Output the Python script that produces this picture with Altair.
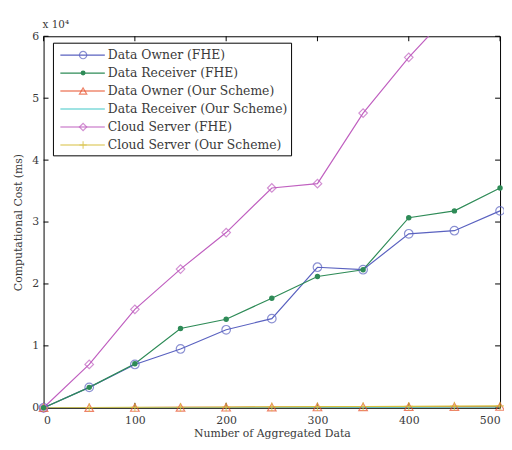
import altair as alt
import pandas as pd

# ---- data (values in units of 1e4 ms) ----
x_vals = [0, 50, 100, 150, 200, 250, 300, 350, 400, 450, 500]
series_names = [
    "Data Owner (FHE)",
    "Data Receiver (FHE)",
    "Data Owner (Our Scheme)",
    "Data Receiver (Our Scheme)",
    "Cloud Server (FHE)",
    "Cloud Server (Our Scheme)",
]
owner_fhe = [0, 0.33, 0.70, 0.95, 1.26, 1.44, 2.27, 2.23, 2.81, 2.86, 3.18]
receiver_fhe = [0, 0.33, 0.71, 1.28, 1.43, 1.77, 2.12, 2.23, 3.07, 3.18, 3.55]
owner_our = [0, 0.002, 0.004, 0.006, 0.008, 0.010, 0.012, 0.014, 0.016, 0.018, 0.020]
receiver_our = [0, 0.001, 0.002, 0.003, 0.004, 0.005, 0.006, 0.007, 0.008, 0.009, 0.010]
cloud_fhe = [0, 0.70, 1.59, 2.24, 2.83, 3.55, 3.62, 4.76, 5.66, 6.45, 7.30]
cloud_our = [0, 0.003, 0.006, 0.009, 0.012, 0.015, 0.018, 0.021, 0.024, 0.027, 0.030]
colors = ["#5a62c0", "#2e8b57", "#e8502a", "#40c8c8", "#c060c0", "#d8c040"]
y_ticks = [0, 1, 2, 3, 4, 5, 6]
x_ticks = [0, 100, 200, 300, 400, 500]

all_vals = [owner_fhe, receiver_fhe, owner_our, receiver_our, cloud_fhe, cloud_our]
rows = []
for name, vals in zip(series_names, all_vals):
    for xv, yv in zip(x_vals, vals):
        rows.append({"series": name, "x": xv, "y": yv})
df = pd.DataFrame(rows)

W, H = 462, 376
FONT = "DejaVu Serif"
TXT = "#3a3a3a"

xs = alt.Scale(domain=[0, 500], nice=False)
ys = alt.Scale(domain=[0, 6], nice=False)
cscale = alt.Scale(domain=series_names, range=colors)

x_axis = alt.Axis(values=x_ticks, title="Number of Aggregated Data", grid=False, ticks=False,
                  domain=False, labelPadding=7, titlePadding=2)
y_axis = alt.Axis(values=y_ticks, title="Computational Cost (ms)", grid=False, ticks=False,
                  domain=False, labelPadding=5, titlePadding=8)


def X(field):
    return alt.X(field, scale=xs, axis=x_axis)


def Y(field):
    return alt.Y(field, scale=ys, axis=y_axis)


base = alt.Chart(df)

lines = base.mark_line(clip=True, strokeWidth=1.2).encode(
    x=X("x:Q"), y=Y("y:Q"),
    color=alt.Color("series:N", scale=cscale, legend=None),
    detail="series:N",
)

hollow_names = ["Data Owner (FHE)", "Data Owner (Our Scheme)", "Cloud Server (FHE)"]
shape_scale = alt.Scale(domain=hollow_names + ["Cloud Server (Our Scheme)"],
                        range=["circle", "triangle-up", "diamond", "M-1,0H1M0,-1V1"])

pts = base.transform_filter(alt.datum.y <= 6)

hollow = pts.transform_filter(
    alt.FieldOneOfPredicate(field="series", oneOf=hollow_names + ["Cloud Server (Our Scheme)"])
).mark_point(filled=False, size=75, strokeWidth=1.2).encode(
    x=X("x:Q"), y=Y("y:Q"),
    color=alt.Color("series:N", scale=cscale, legend=None),
    shape=alt.Shape("series:N", scale=shape_scale, legend=None),
)

filled = pts.transform_filter(
    alt.FieldEqualPredicate(field="series", equal="Data Receiver (FHE)")
).mark_point(filled=True, size=30, shape="circle", opacity=1).encode(
    x=X("x:Q"), y=Y("y:Q"),
    color=alt.Color("series:N", scale=cscale, legend=None),
)

ytdf = pd.DataFrame({"y": y_ticks})
xtdf = pd.DataFrame({"x": x_ticks})
rule_style = dict(color="black", strokeWidth=1)
ytick_l = alt.Chart(ytdf).mark_rule(**rule_style).encode(
    y=Y("y:Q"), x=alt.value(0), x2=alt.value(5))
ytick_r = alt.Chart(ytdf).mark_rule(**rule_style).encode(
    y=Y("y:Q"), x=alt.value(W - 5), x2=alt.value(W))
xtick_b = alt.Chart(xtdf).mark_rule(**rule_style).encode(
    x=X("x:Q"), y=alt.value(H - 5), y2=alt.value(H))
xtick_t = alt.Chart(xtdf).mark_rule(**rule_style).encode(
    x=X("x:Q"), y=alt.value(0), y2=alt.value(5))

exp_label = alt.Chart(pd.DataFrame({"t": ["x 10⁴"]})).mark_text(
    align="left", baseline="bottom", font=FONT, fontSize=10.5, color=TXT
).encode(text="t:N", x=alt.value(-1), y=alt.value(-6))

main = alt.layer(ytick_l, ytick_r, xtick_b, xtick_t, lines, hollow, filled, exp_label)

# ---- legend (built from series names) ----
ldf = pd.DataFrame({"series": series_names, "row": list(range(len(series_names)))})
lscale = alt.Scale(domain=[0, 5], range=[19, 110])
lbase = alt.Chart(ldf)
lbox = alt.Chart(pd.DataFrame({"a": [0]})).mark_rect(
    fill="white", stroke="black", strokeWidth=1
).encode(x=alt.value(10), x2=alt.value(251), y=alt.value(7), y2=alt.value(121))
lline = lbase.mark_rule(strokeWidth=1.2).encode(
    y=alt.Y("row:Q", scale=lscale, axis=None),
    x=alt.value(17), x2=alt.value(62),
    color=alt.Color("series:N", scale=cscale, legend=None),
)
lpt_h = lbase.transform_filter(
    alt.FieldOneOfPredicate(field="series", oneOf=hollow_names + ["Cloud Server (Our Scheme)"])
).mark_point(filled=False, size=55, strokeWidth=1.2).encode(
    y=alt.Y("row:Q", scale=lscale, axis=None),
    x=alt.value(40),
    color=alt.Color("series:N", scale=cscale, legend=None),
    shape=alt.Shape("series:N", scale=shape_scale, legend=None),
)
lpt_f = lbase.transform_filter(
    alt.FieldEqualPredicate(field="series", equal="Data Receiver (FHE)")
).mark_point(filled=True, size=25, shape="circle", opacity=1).encode(
    y=alt.Y("row:Q", scale=lscale, axis=None),
    x=alt.value(40),
    color=alt.Color("series:N", scale=cscale, legend=None),
)
ltext = lbase.mark_text(align="left", baseline="middle", font=FONT, fontSize=12.5, color=TXT).encode(
    y=alt.Y("row:Q", scale=lscale, axis=None),
    x=alt.value(65),
    text="series:N",
)
legend = alt.layer(lbox, lline, lpt_h, lpt_f, ltext)

chart = alt.layer(main, legend).resolve_scale(y="independent").properties(
    width=W, height=H,
    autosize=alt.AutoSizeParams(type="none"),
    padding={"left": 36, "top": 26, "right": 4, "bottom": 32},
).configure_view(stroke="black", strokeWidth=1).configure_axis(
    labelFont=FONT, titleFont=FONT, labelFontSize=11, titleFontSize=11,
    labelColor=TXT, titleColor=TXT, titleFontWeight="normal",
).configure_text(font=FONT)

chart.save("out.html", embed_options={"renderer": "svg", "actions": False})
